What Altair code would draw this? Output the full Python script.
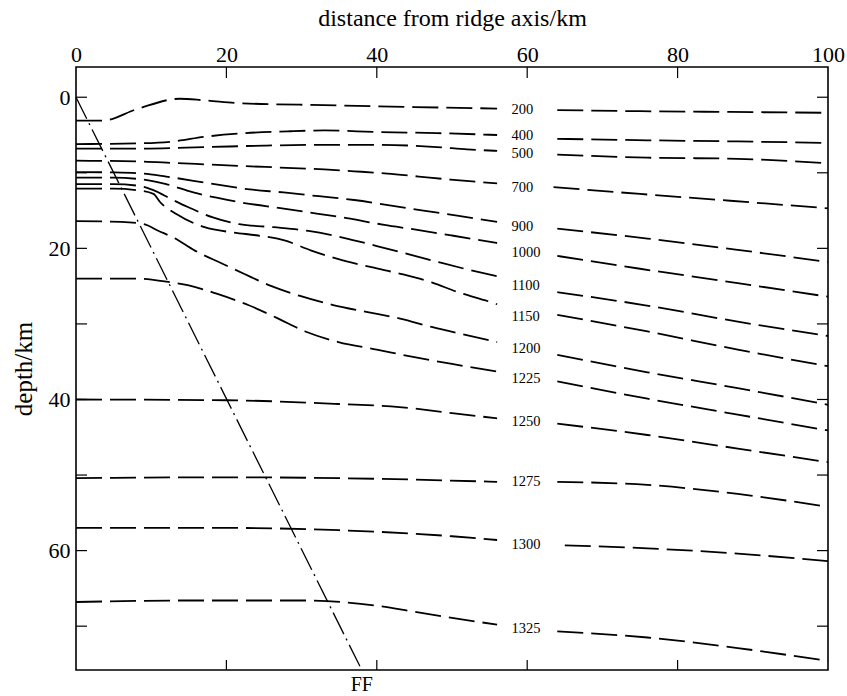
import altair as alt
import pandas as pd

# ---------------- data (km from ridge axis, depth in km) ----------------
ISOTHERMS = [200, 400, 500, 700, 900, 1000, 1100, 1150, 1200, 1225, 1250, 1275, 1300, 1325]

T200_X = [0, 3.5, 8.3, 13.8, 17, 22, 33, 45, 56, 64, 75, 87, 100]
T200_D = [3.1, 3.1, 1.5, 0.2, 0.4, 0.8, 1.05, 1.3, 1.5, 1.7, 1.85, 1.95, 2.06]

T400_X = [0, 8.5, 12.5, 17.4, 21.8, 28.5, 33, 40, 48, 56, 64, 76, 88, 100]
T400_D = [6.2, 6.1, 5.9, 5.2, 4.8, 4.5, 4.4, 4.6, 4.75, 5.0, 5.5, 5.7, 5.85, 6.05]

T500_X = [0, 8.5, 17.4, 25, 33, 40.5, 48, 52, 56, 64, 76, 88, 100]
T500_D = [6.8, 6.8, 6.6, 6.4, 6.3, 6.3, 6.6, 6.9, 7.1, 7.6, 8.0, 8.15, 8.75]

T700_X = [0, 8.5, 13, 22, 27, 33, 37, 41.4, 45.6, 49.8, 56, 63.5, 75, 87, 100]
T700_D = [8.4, 8.5, 8.7, 9.1, 9.3, 9.55, 9.8, 10.1, 10.5, 10.9, 11.4, 11.9, 12.8, 13.7, 14.7]

T900_X = [0, 5, 9, 12, 17.8, 23.1, 27.6, 32.3, 37, 41.7, 46.2, 50.9, 56, 64, 76, 88, 100]
T900_D = [9.9, 9.95, 10.1, 10.5, 11.4, 12.2, 12.6, 13.1, 13.6, 14.3, 15.0, 15.7, 16.5, 17.4, 18.7, 20.2, 21.8]

T1000_X = [0, 5, 9, 12, 15.6, 18.7, 22.4, 27.4, 32, 36, 41, 45, 50, 56, 64, 75, 88, 100]
T1000_D = [10.65, 10.65, 10.9, 11.5, 12.6, 13.3, 14.0, 14.7, 15.4, 16.0, 16.9, 17.5, 18.3, 19.3, 21.0, 22.7, 24.6, 26.4]

T1100_X = [0, 5, 8.5, 10.3, 12.7, 14.8, 18.2, 21.7, 26.3, 30.9, 35.6, 40, 44.3, 48.5, 52.5, 56, 64, 75.5, 88, 100]
T1100_D = [11.5, 11.5, 11.75, 12.3, 13.5, 14.5, 15.9, 16.8, 17.2, 17.7, 18.6, 19.7, 20.8, 21.9, 22.9, 23.7, 25.8, 27.5, 29.7, 31.6]

T1150_X = [0, 5, 8, 10.3, 11.2, 13.4, 17.1, 20.9, 24.2, 27.6, 31.3, 34.8, 39.3, 43.3, 47.3, 50.8, 54.8, 56, 64, 76, 88, 100]
T1150_D = [12.1, 12.1, 12.3, 12.8, 13.9, 15.5, 17.2, 17.9, 18.3, 18.9, 20.3, 21.4, 22.5, 23.4, 24.5, 25.8, 27.0, 27.4, 28.8, 31.0, 33.4, 35.6]

T1200_X = [0, 6, 9, 11, 13, 15.8, 19.4, 22.4, 26, 29.8, 34.2, 38.6, 43.1, 47.3, 51.1, 56, 64, 76, 88, 100]
T1200_D = [16.4, 16.5, 16.8, 17.7, 18.6, 20.3, 22.0, 23.4, 25.0, 26.3, 27.5, 28.4, 29.3, 30.4, 31.3, 32.4, 34.1, 36.4, 38.5, 40.7]

T1225_X = [0, 8, 12, 15, 18.7, 22.9, 26.7, 30.5, 34.9, 40, 45, 50, 56, 64, 76, 88, 100]
T1225_D = [24.0, 24.0, 24.4, 24.9, 26.0, 27.5, 29.2, 31.0, 32.4, 33.4, 34.4, 35.3, 36.3, 37.6, 39.9, 42.0, 44.1]

T1250_X = [0, 20, 35, 43, 50, 56, 64, 76, 88, 100]
T1250_D = [40.0, 40.1, 40.6, 41.0, 41.8, 42.5, 43.2, 44.7, 46.5, 48.3]

T1275_X = [0, 20, 40, 56, 64, 76, 88, 100]
T1275_D = [50.4, 50.3, 50.5, 50.9, 50.9, 51.3, 52.5, 54.2]

T1300_X = [0, 20, 35, 50, 56, 65, 76, 88, 100]
T1300_D = [57.0, 57.0, 57.3, 58.1, 58.6, 59.3, 59.7, 60.4, 61.4]

T1325_X = [0, 15, 30, 40, 45, 50, 56, 64, 76, 88, 100]
T1325_D = [66.8, 66.6, 66.6, 67.3, 68.1, 68.9, 69.8, 70.7, 71.5, 72.9, 74.6]

# label positions (left edge x in km, centre depth in km)
LABEL_X = 57.9
LABEL_D = [1.66, 5.19, 7.52, 12.03, 17.11, 20.6, 24.97, 29.03, 33.35, 37.28, 42.94, 50.89, 59.27, 70.44]

# FF line (dash-dot), from ridge axis at surface down to the base of the section
FF_X = [0, 38.0]
FF_D = [0, 75.8]
FF_LABEL = "FF"

X_LABEL_VALUES = [0, 20, 40, 60, 80, 100]
X_TICKS = [20, 40, 60, 80]
Y_LABEL_VALUES = [0, 20, 40, 60]
Y_TICKS = [0, 10, 20, 30, 40, 50, 60, 70]
X_DOMAIN = [0, 100]
Y_DOMAIN = [-4, 75.8]

# ---------------- build tables ----------------
series = {
    200: (T200_X, T200_D), 400: (T400_X, T400_D), 500: (T500_X, T500_D),
    700: (T700_X, T700_D), 900: (T900_X, T900_D), 1000: (T1000_X, T1000_D),
    1100: (T1100_X, T1100_D), 1150: (T1150_X, T1150_D), 1200: (T1200_X, T1200_D),
    1225: (T1225_X, T1225_D), 1250: (T1250_X, T1250_D), 1275: (T1275_X, T1275_D),
    1300: (T1300_X, T1300_D), 1325: (T1325_X, T1325_D),
}
rows = []
for t in ISOTHERMS:
    xs, ds = series[t]
    for i, (x, d) in enumerate(zip(xs, ds)):
        seg = f"{t}-a" if x < 60 else f"{t}-b"
        rows.append({"x": x, "d": d, "seg": seg, "order": i})
lines_df = pd.DataFrame(rows)

labels_df = pd.DataFrame({"x": [LABEL_X] * len(ISOTHERMS), "d": LABEL_D,
                          "t": [str(t) for t in ISOTHERMS]})
ff_df = pd.DataFrame({"x": FF_X, "d": FF_D})
ff_lab_df = pd.DataFrame({"x": [FF_X[-1]], "d": [FF_D[-1]], "t": [FF_LABEL]})
xt_df = pd.DataFrame({"x": X_TICKS})
yt_df = pd.DataFrame({"d": Y_TICKS})

W, H = 752, 603
SERIF = "Liberation Serif"

xscale = alt.Scale(domain=X_DOMAIN, nice=False, zero=False)
yscale = alt.Scale(domain=Y_DOMAIN, nice=False, zero=False, reverse=True)

x_axis = alt.Axis(orient="top", values=X_LABEL_VALUES, ticks=False, domain=False,
                  grid=False, labelFont=SERIF, labelFontSize=22, labelColor="black",
                  labelPadding=1, title="distance from ridge axis/km",
                  titleFont=SERIF, titleFontSize=24, titleFontWeight="normal",
                  titleColor="black", titlePadding=13, labelFlush=False)
y_axis = alt.Axis(orient="left", values=Y_LABEL_VALUES, ticks=False, domain=False,
                  grid=False, labelFont=SERIF, labelFontSize=22, labelColor="black",
                  labelPadding=6, title="depth/km", titleFont=SERIF, titleFontSize=25,
                  titleFontWeight="normal", titleColor="black", titlePadding=12,
                  labelFlush=False)

base_lines = alt.Chart(lines_df).mark_line(
    color="black", strokeWidth=1.8, strokeDash=[26, 8], interpolate="monotone"
).encode(
    x=alt.X("x:Q", scale=xscale, axis=x_axis),
    y=alt.Y("d:Q", scale=yscale, axis=y_axis),
    detail="seg:N",
    order="order:Q",
)

ff_line = alt.Chart(ff_df).mark_line(
    color="black", strokeWidth=1.3, strokeDash=[24, 5, 2, 5]
).encode(x="x:Q", y="d:Q")

labels = alt.Chart(labels_df).mark_text(
    align="left", baseline="middle", font=SERIF, fontSize=14.5, color="black"
).encode(x="x:Q", y="d:Q", text="t:N")

ff_label = alt.Chart(ff_lab_df).mark_text(
    align="center", baseline="middle", font=SERIF, fontSize=20, color="black", dy=15
).encode(x="x:Q", y="d:Q", text="t:N")

tick_top = alt.Chart(xt_df).mark_rule(color="black", strokeWidth=1.2).encode(
    x="x:Q", y=alt.value(0), y2=alt.value(11))
tick_bot = alt.Chart(xt_df).mark_rule(color="black", strokeWidth=1.2).encode(
    x="x:Q", y=alt.value(H), y2=alt.value(H - 10))
tick_left = alt.Chart(yt_df).mark_rule(color="black", strokeWidth=1.2).encode(
    y="d:Q", x=alt.value(0), x2=alt.value(11))
tick_right = alt.Chart(yt_df).mark_rule(color="black", strokeWidth=1.2).encode(
    y="d:Q", x=alt.value(W), x2=alt.value(W - 11))

chart = alt.layer(
    base_lines, ff_line, labels, ff_label, tick_top, tick_bot, tick_left, tick_right
).properties(
    width=W, height=H,
    autosize=alt.AutoSizeParams(type="none"),
    padding={"left": 76, "top": 67, "right": 19, "bottom": 26},
    background="white",
).configure_view(
    stroke="black", strokeWidth=1.6
)

chart.save("out.html", embed_options={"renderer": "svg", "actions": False})
